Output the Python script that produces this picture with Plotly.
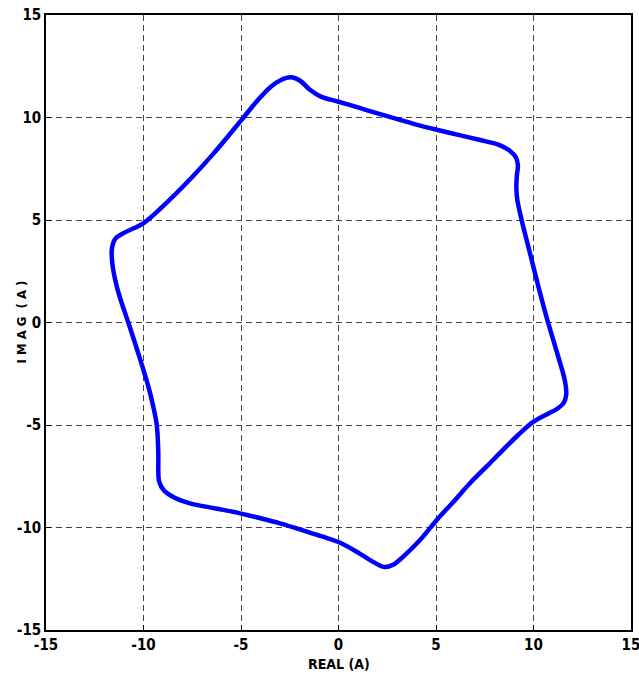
import plotly.graph_objects as go

# Current trajectory (real, imag) in A, traced clockwise
real_a = [-2.45, -1.95, -1.5, -0.9, 0.0, 1.0, 2.0, 3.1, 4.0, 5.04, 6.2, 7.26, 8.2, 8.75, 9.1, 9.2,
          9.15, 9.12, 9.17, 9.39, 9.6, 9.82, 10.25, 10.5, 10.76, 11.27, 11.6, 11.68, 11.55, 11.2,
          10.75, 10.0, 9.2, 8.45, 7.6, 6.74, 5.9, 5.04, 4.18, 3.32, 2.8, 2.35, 1.62, 0.93, 0.03,
          -0.8, -1.63, -3.0, -4.0, -5.05, -6.3, -7.62, -8.4, -8.95, -9.2, -9.24, -9.24, -9.32,
          -9.5, -9.75, -10.27, -10.78, -11.1, -11.37, -11.6, -11.62, -11.45, -10.9, -10.01,
          -8.81, -7.6, -6.4, -5.0, -4.2, -3.5, -2.95, -2.45]
imag_a = [11.96, 11.78, 11.38, 11.02, 10.77, 10.49, 10.2, 9.9, 9.65, 9.4, 9.14, 8.9, 8.68, 8.4,
          8.05, 7.65, 7.2, 6.6, 5.98, 5.0, 4.2, 3.38, 1.75, 0.85, -0.04, -1.67, -2.8, -3.5, -3.92,
          -4.22, -4.45, -4.84, -5.5, -6.2, -7.02, -7.84, -8.74, -9.63, -10.61, -11.42, -11.82,
          -11.93, -11.59, -11.18, -10.72, -10.45, -10.2, -9.8, -9.55, -9.31, -9.07, -8.82, -8.55,
          -8.2, -7.75, -7.2, -6.4, -5.0, -4.1, -3.13, -1.5, 0.0, 0.9, 1.75, 2.89, 3.6, 4.08, 4.42,
          4.84, 5.85, 7.0, 8.25, 9.85, 10.78, 11.48, 11.83, 11.96]

tick_vals = [-15, -10, -5, 0, 5, 10, 15]
tick_text = ["-15", "-10", "-5", "0", "5", "10", "15"]

font_fam = "DejaVu Sans Condensed, Liberation Sans Narrow, Arial Narrow, sans-serif"

fig = go.Figure()
fig.add_trace(go.Scatter(
    x=real_a, y=imag_a, mode="lines",
    line=dict(color="#0000FF", width=4.5, shape="spline", smoothing=0.9),
    showlegend=False, hoverinfo="skip",
))

axis_common = dict(
    range=[-15, 15], tickvals=tick_vals, ticktext=tick_text,
    showgrid=True, gridcolor="#444444", gridwidth=1, griddash="6px,4px",
    zeroline=False, showline=True, linecolor="black", linewidth=1.5, mirror=True,
    ticks="inside", ticklen=5, tickcolor="black",
    tickfont=dict(family=font_fam, size=15, color="black", weight="bold"),
    ticklabeloverflow="allow", automargin=False,
)

fig.update_layout(
    width=639, height=678,
    margin=dict(l=46, r=8, t=15, b=48),
    paper_bgcolor="white", plot_bgcolor="white",
    xaxis=dict(**axis_common),
    yaxis=dict(**axis_common),
    annotations=[
        dict(text="REAL (A)", xref="paper", yref="paper", x=0.5, y=0, yshift=-34,
             xanchor="center", yanchor="middle", showarrow=False,
             font=dict(family=font_fam, size=14, color="black", weight="bold")),
        dict(text="I M A G  ( A )", xref="paper", yref="paper", x=0, y=0.5, xshift=-25,
             xanchor="center", yanchor="middle", showarrow=False, textangle=-90,
             font=dict(family=font_fam, size=13, color="black", weight="bold")),
    ],
)

fig.write_html("out.html")
